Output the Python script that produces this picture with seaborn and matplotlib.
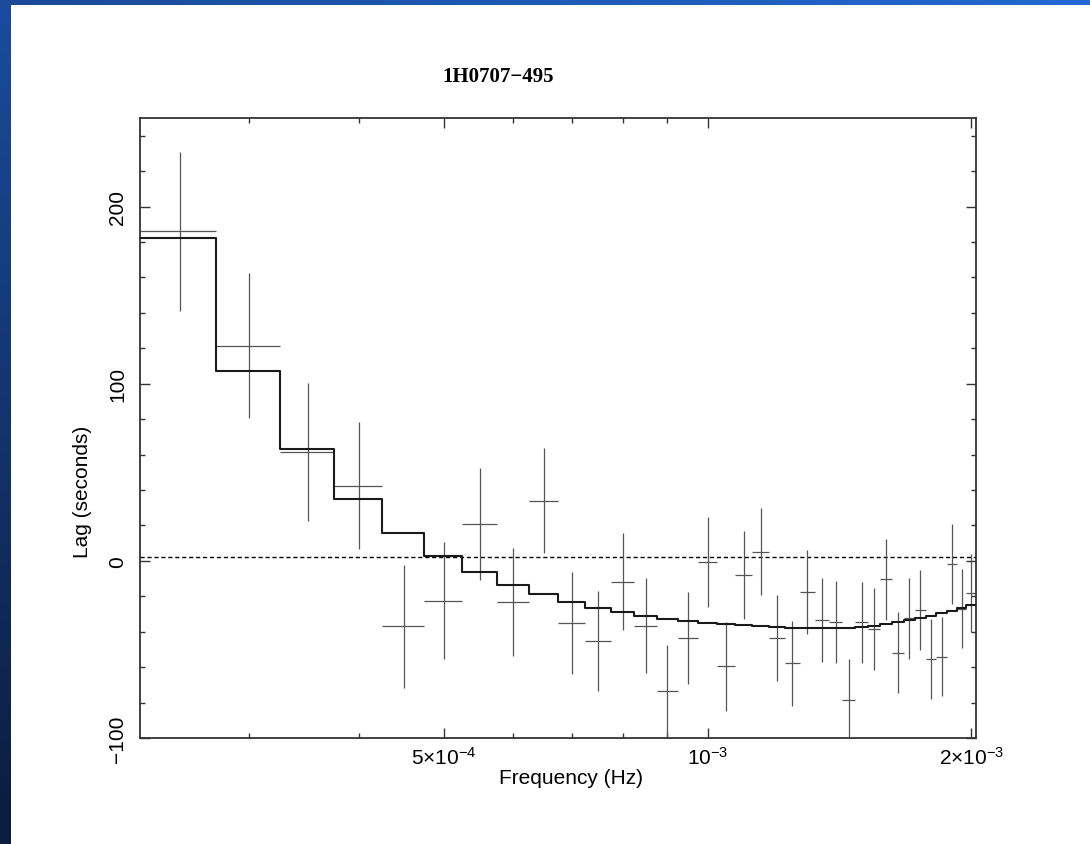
import numpy as np
import pandas as pd
import matplotlib
matplotlib.use("Agg")
import matplotlib.pyplot as plt
from matplotlib.ticker import FixedLocator, NullFormatter, MultipleLocator
import seaborn as sns

# ---------------- data ----------------
freq_hz = [2.5e-4, 3.0e-4, 3.5e-4, 4.0e-4, 4.5e-4, 5.0e-4, 5.5e-4, 6.0e-4, 6.5e-4,
           7.0e-4, 7.5e-4, 8.0e-4, 8.5e-4, 9.0e-4, 9.5e-4, 1.0e-3, 1.05e-3, 1.10e-3,
           1.15e-3, 1.20e-3, 1.25e-3, 1.30e-3, 1.35e-3, 1.40e-3, 1.45e-3, 1.50e-3,
           1.55e-3, 1.60e-3, 1.65e-3, 1.70e-3, 1.75e-3, 1.80e-3, 1.85e-3, 1.90e-3,
           1.95e-3, 2.00e-3]
bin_half_width = 2.5e-5

lag_data = [186.0, 121.5, 61.5, 42.5, -37.0, -22.5, 20.7, -23.3, 34.0,
            -35.1, -45.2, -11.8, -36.6, -73.6, -43.5, -0.9, -59.5, -7.9,
            5.1, -43.7, -57.8, -17.5, -33.4, -34.5, -78.3, -34.7,
            -38.5, -10.5, -51.8, -32.5, -27.7, -55.6, -54.0, -1.9,
            -27.0, -18.3]
lag_err = [45.0, 41.0, 39.0, 36.0, 34.5, 33.0, 31.5, 30.5, 29.5,
           28.6, 28.0, 27.3, 26.7, 26.3, 25.8, 25.4, 25.0, 24.9,
           24.6, 24.3, 24.0, 23.8, 23.6, 23.3, 23.0, 23.0,
           23.0, 22.8, 22.7, 22.8, 22.7, 22.5, 22.5, 22.6,
           22.4, 22.0]
lag_model = [182.5, 106.9, 63.0, 34.8, 15.8, 2.7, -6.5, -13.7, -18.9,
             -23.3, -26.6, -29.1, -31.2, -32.8, -34.2, -35.1, -35.7, -36.4,
             -36.9, -37.3, -37.7, -38.0, -38.1, -38.0, -37.8, -37.3,
             -36.6, -35.7, -34.5, -33.4, -32.2, -31.0, -29.6, -28.2,
             -26.6, -25.0]
reference_level = 2.0

title_text = "1H0707\u2212495"
x_label = "Frequency (Hz)"
y_label = "Lag (seconds)"
x_major_ticks = [5e-4, 1e-3, 2e-3]
x_major_labels = [r"$5{\times}10^{-4}$", r"$10^{-3}$", r"$2{\times}10^{-3}$"]
x_minor_ticks = [3e-4, 4e-4, 6e-4, 7e-4, 8e-4, 9e-4]
y_major_ticks = [-100, 0, 100, 200]
y_major_labels = ["\u2212100", "0", "100", "200"]

# ---------------- style ----------------
sns.set_theme(style="ticks")
plt.rcParams["font.family"] = ["Liberation Sans", "DejaVu Sans"]
plt.rcParams["mathtext.default"] = "regular"

W, H = 1090, 845
fig = plt.figure(figsize=(W / 100, H / 100), dpi=100, facecolor="white")

# slide background strips (left and top)
gl = fig.add_axes([0, 0, 11 / W, 1])
gl.imshow(np.linspace(0, 1, 256)[:, None], aspect="auto",
          cmap=matplotlib.colors.LinearSegmentedColormap.from_list(
              "l", ["#1a4c9e", "#0b1c3c"]), extent=[0, 1, 0, 1], origin="upper")
gl.axis("off")
gt = fig.add_axes([0, 1 - 6 / H, 1, 6 / H])
gt.imshow(np.linspace(0, 1, 256)[None, :], aspect="auto",
          cmap=matplotlib.colors.LinearSegmentedColormap.from_list(
              "t", ["#1a4a98", "#2269d2"]), extent=[0, 1, 0, 1])
gt.axis("off")

ax = fig.add_axes([140 / W, 1 - 739 / H, (976 - 140) / W, (739 - 119) / H])
ax.set_facecolor("white")

df = pd.DataFrame({"freq": freq_hz, "lag": lag_data, "err": lag_err, "model": lag_model})

# model as histogram-style steps over bin edges
edges = list(df["freq"] - bin_half_width) + [df["freq"].iloc[-1] + bin_half_width]
steps = list(df["model"]) + [df["model"].iloc[-1]]
step_df = pd.DataFrame({"edge": edges, "model": steps})

ax.set_xscale("log")

# data crosses
ax.errorbar(df["freq"], df["lag"], xerr=bin_half_width, yerr=df["err"],
            fmt="none", ecolor="#555555", elinewidth=0.9, capsize=0, zorder=2)

sns.lineplot(data=step_df, x="edge", y="model", drawstyle="steps-post",
             estimator=None, sort=False, color="#1a1a1a", linewidth=1.5,
             ax=ax, zorder=3)

ax.axhline(reference_level, color="black", linewidth=1.0,
           linestyle=(0, (3, 2)), zorder=1)

ax.set_xlim(2.25e-4, 2.025e-3)
ax.set_ylim(-100, 250)

ax.xaxis.set_major_locator(FixedLocator(x_major_ticks))
ax.set_xticklabels(x_major_labels)
ax.xaxis.set_minor_locator(FixedLocator(x_minor_ticks))
ax.xaxis.set_minor_formatter(NullFormatter())
ax.yaxis.set_major_locator(FixedLocator(y_major_ticks))
ax.set_yticklabels(y_major_labels, rotation=90, va="center")
ax.yaxis.set_minor_locator(MultipleLocator(20))

ax.tick_params(which="both", direction="in", top=True, right=True,
               labeltop=False, labelright=False, color="#333333", width=1.0)
ax.tick_params(which="major", length=7)
ax.tick_params(which="minor", length=3.5)
ax.tick_params(axis="x", which="major", labelsize=15, pad=6, labelcolor="black")
ax.tick_params(axis="y", which="major", labelsize=15, pad=9, labelcolor="black")

for s in ax.spines.values():
    s.set_visible(True)
    s.set_color("#333333")
    s.set_linewidth(1.3)

ax.set_xlabel(x_label, fontsize=15, color="black")
ax.set_ylabel(y_label, fontsize=15, color="black")
ax.xaxis.set_label_coords(0.5155, -0.048)
ax.yaxis.set_label_coords(-0.058, 0.398)

fig.text(498 / W, 1 - 77 / H, title_text, ha="center", va="center",
         fontsize=15, fontweight="bold",
         family=["Liberation Serif", "DejaVu Serif"], color="black")

fig.savefig("out.png", dpi=100, facecolor="white")
